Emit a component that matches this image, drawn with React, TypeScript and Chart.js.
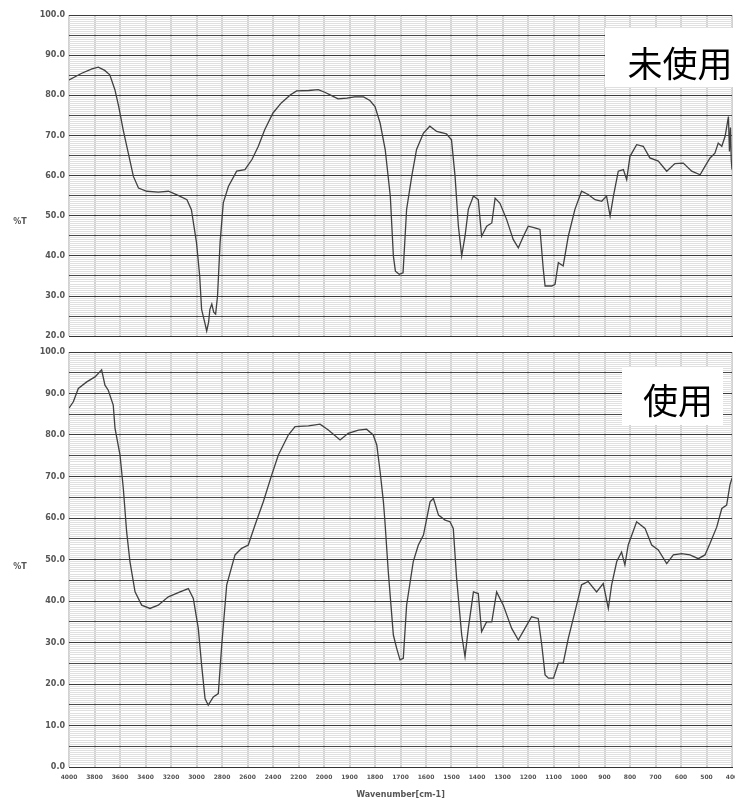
import React, { useEffect, useRef } from 'react';
import { Chart, registerables, LinearScale } from 'chart.js';

Chart.register(...registerables);

// ---- axis tick values (cm-1): 200 steps above 2000, 100 steps below ----
const wavenumberTicks = [
  4000, 3800, 3600, 3400, 3200, 3000, 2800, 2600, 2400, 2200, 2000,
  1900, 1800, 1700, 1600, 1500, 1400, 1300, 1200, 1100, 1000, 900, 800, 700, 600, 500, 400,
];

// ---- 未使用 (unused) spectrum ----
const unusedWavenumber = [
  4000, 3900, 3820, 3770, 3720, 3680, 3640, 3610, 3575, 3535, 3495, 3455, 3390, 3300, 3220, 3140,
  3075, 3040, 3000, 2975, 2960, 2935, 2920, 2905, 2895, 2880, 2865, 2850, 2835, 2815, 2790, 2750,
  2685, 2620, 2565, 2515, 2465, 2400, 2335, 2265, 2215, 2120, 2045, 1995, 1970, 1945, 1910, 1880,
  1845, 1820, 1800, 1780, 1760, 1740, 1728, 1720, 1705, 1690, 1676, 1656, 1637, 1610, 1585, 1558,
  1520, 1500, 1486, 1473, 1460, 1447, 1434, 1414, 1395, 1382, 1362, 1342, 1329, 1310, 1284, 1258,
  1238, 1218, 1199, 1173, 1153, 1140, 1133, 1107, 1094, 1081, 1062, 1042, 1016, 990, 964, 937,
  911, 892, 878, 865, 846, 826, 813, 800, 774, 748, 722, 689, 656, 624, 591, 558,
  525, 506, 486, 467, 454, 440, 427, 414, 410, 406, 403, 400,
];
const unusedT = [
  83.8, 85.5, 86.6, 87.0, 86.2, 85.1, 81.4, 77.2, 71.4, 65.6, 59.8, 56.9, 56.1, 55.9, 56.1, 55.0,
  54.0, 51.5, 43.3, 35.0, 26.7, 23.4, 21.3, 23.5, 26.7, 28.0, 26.0, 25.5, 30.0, 43.3, 53.2, 57.3,
  61.1, 61.5, 64.0, 67.3, 71.4, 75.6, 78.1, 80.1, 81.1, 81.2, 81.4, 80.7, 79.9, 79.1, 79.3, 79.6,
  79.6, 78.7, 77.2, 73.1, 66.5, 54.9, 40.0, 36.2, 35.4, 35.8, 51.6, 59.8, 66.5, 70.6, 72.3, 71.0,
  70.4, 68.9, 59.8, 47.4, 40.0, 44.9, 51.6, 54.9, 54.0, 44.9, 47.4, 48.2, 54.4, 53.1, 49.1, 44.1,
  42.0, 44.9, 47.4, 47.0, 46.6, 36.6, 32.5, 32.5, 32.9, 38.3, 37.5, 44.9, 51.6, 56.1, 55.3, 54.0,
  53.6, 54.9, 49.9, 54.9, 61.1, 61.5, 59.0, 64.8, 67.7, 67.3, 64.4, 63.6, 61.1, 63.0, 63.1, 61.1,
  60.2, 62.3, 64.4, 65.6, 68.1, 67.3, 69.8, 74.7, 66.0, 72.0, 64.0, 61.5,
];

// ---- 使用 (used) spectrum ----
const usedWavenumber = [
  4000, 3966, 3927, 3861, 3796, 3744, 3718, 3692, 3653, 3639, 3600, 3574, 3548, 3522, 3482, 3430,
  3365, 3300, 3221, 3129, 3064, 3025, 2986, 2960, 2933, 2908, 2868, 2829, 2802, 2763, 2698, 2646,
  2594, 2541, 2476, 2410, 2358, 2280, 2227, 2122, 2031, 1983, 1937, 1905, 1865, 1833, 1807, 1793,
  1780, 1767, 1761, 1748, 1728, 1715, 1702, 1689, 1676, 1650, 1630, 1610, 1584, 1571, 1551, 1525,
  1506, 1493, 1480, 1460, 1447, 1434, 1414, 1395, 1382, 1362, 1342, 1323, 1297, 1264, 1238, 1212,
  1186, 1160, 1146, 1133, 1120, 1100, 1081, 1062, 1042, 1016, 990, 964, 931, 905, 885, 872,
  852, 833, 820, 807, 774, 741, 715, 689, 656, 630, 597, 565, 532, 506, 486, 460,
  440, 421, 408, 400,
];
const usedT = [
  86.5, 88.0, 91.2, 92.8, 94.0, 95.7, 92.0, 90.8, 87.2, 81.6, 75.2, 67.1, 56.7, 49.5, 42.2, 39.0,
  38.2, 39.0, 41.0, 42.2, 43.0, 40.6, 33.4, 24.6, 16.5, 14.9, 16.9, 17.7, 29.4, 43.9, 51.1, 52.7,
  53.5, 58.3, 63.9, 70.4, 75.2, 80.0, 82.0, 82.2, 82.6, 81.2, 78.8, 80.4, 81.2, 81.4, 80.0, 77.6,
  71.2, 63.9, 59.1, 47.1, 31.8, 28.6, 25.8, 26.2, 39.0, 49.5, 53.5, 55.9, 63.9, 64.7, 60.7, 59.5,
  59.1, 57.5, 45.5, 31.8, 26.6, 33.4, 42.2, 41.8, 32.6, 35.0, 35.0, 42.2, 39.0, 33.4, 30.6, 33.4,
  36.2, 35.8, 29.4, 22.2, 21.4, 21.4, 25.0, 25.0, 31.0, 37.4, 43.9, 44.7, 42.2, 44.2, 38.2, 43.9,
  49.5, 51.8, 48.7, 53.5, 59.1, 57.5, 53.5, 52.3, 49.0, 51.1, 51.4, 51.1, 50.2, 51.1, 53.9, 57.8,
  62.3, 63.1, 68.0, 69.6,
];

// IR wavenumber axis: 4000-2000 at 200 cm-1 per division, 2000-400 at 100 cm-1 per division
class IRWavenumberScale extends LinearScale {
  static id = 'irWavenumber';
  static defaults = { ...(LinearScale as any).defaults };
  toPos(v: number) {
    return v >= 2000 ? (4000 - v) / 200 : 10 + (2000 - v) / 100;
  }
  fromPos(p: number) {
    return p <= 10 ? 4000 - p * 200 : 2000 - (p - 10) * 100;
  }
  buildTicks() {
    return wavenumberTicks.map((v) => ({ value: v }));
  }
  getPixelForValue(value: number) {
    return (this as any).left + (this.toPos(value) / 26) * (this as any).width;
  }
  getValueForPixel(pixel: number) {
    return this.fromPos(((pixel - (this as any).left) / (this as any).width) * 26);
  }
}
Chart.register(IRWavenumberScale as any);

const panelTextPlugin = {
  id: 'panelText',
  afterDraw(chart: any, _args: any, opts: any) {
    const ctx = chart.ctx;
    ctx.save();
    ctx.textAlign = 'center';
    ctx.textBaseline = 'middle';
    ctx.fillStyle = '#555';
    ctx.font = 'bold 8px "DejaVu Sans"';
    ctx.fillText(opts.axisLabel, opts.axisLabelX, opts.axisLabelY);
    ctx.fillStyle = '#ffffff';
    ctx.fillRect(opts.boxX, opts.boxY, opts.boxW, opts.boxH);
    ctx.fillStyle = '#000000';
    ctx.font = '35px "Noto Sans CJK JP"';
    ctx.fillText(opts.label, opts.labelX, opts.labelY);
    ctx.restore();
  },
};

const gridColor = (v: number) => {
  if (Math.abs(v % 10) < 1e-9) return '#3c3c3c';
  if (Math.abs(v % 5) < 1e-9) return '#4a4a4a';
  return '#e0e0e0';
};

function makeConfig(kind: 'top' | 'bottom'): any {
  const isTop = kind === 'top';
  const xs = isTop ? unusedWavenumber : usedWavenumber;
  const ys = isTop ? unusedT : usedT;
  return {
    type: 'line',
    data: {
      datasets: [
        {
          label: isTop ? '未使用' : '使用',
          data: xs.map((x, i) => ({ x, y: ys[i] })),
          borderColor: '#404040',
          borderWidth: 1.3,
          pointRadius: 0,
          tension: 0,
          fill: false,
        },
      ],
    },
    options: {
      responsive: false,
      animation: false,
      layout: { padding: { top: isTop ? 15 : 12, right: 28, left: 0, bottom: 0 } },
      plugins: {
        legend: { display: false },
        tooltip: { enabled: false },
        panelText: isTop
          ? {
              axisLabel: '%T', axisLabelX: 20, axisLabelY: 222,
              boxX: 605, boxY: 28, boxW: 160, boxH: 59,
              label: '未使用', labelX: 680, labelY: 64,
            }
          : {
              axisLabel: '%T', axisLabelX: 20, axisLabelY: 227,
              boxX: 622, boxY: 27, boxW: 101, boxH: 58,
              label: '使用', labelX: 678, labelY: 61,
            },
      },
      scales: {
        x: {
          type: 'irWavenumber',
          min: 400,
          max: 4000,
          afterFit: (s: any) => {
            s.height = isTop ? 8 : 35;
          },
          border: { display: true, color: '#333', width: 1 },
          grid: { drawTicks: false, color: '#d2d2d2', lineWidth: 2, z: -2 },
          ticks: {
            display: !isTop,
            autoSkip: false,
            maxRotation: 0,
            minRotation: 0,
            padding: 7,
            color: '#555',
            font: { family: 'DejaVu Sans', size: 6, weight: 'bold' },
            callback: (v: any) => String(v),
          },
          title: {
            display: !isTop,
            text: 'Wavenumber[cm-1]',
            color: '#555',
            font: { family: 'DejaVu Sans', size: 8, weight: 'bold' },
            padding: { top: 4, bottom: 2 },
          },
        },
        y: {
          min: isTop ? 20 : 0,
          max: 100,
          afterFit: (s: any) => {
            s.width = 69;
          },
          border: { display: false },
          grid: {
            drawTicks: false,
            color: (c: any) => gridColor(c.tick.value),
            lineWidth: 1,
          },
          ticks: {
            stepSize: 0.5,
            autoSkip: false,
            padding: 4,
            color: '#555',
            font: { family: 'DejaVu Sans', size: 8, weight: 'bold' },
            callback: (v: any) => (Math.abs(v % 10) < 1e-9 ? Number(v).toFixed(1) : ''),
          },
        },
      },
    },
    plugins: [panelTextPlugin],
  };
}

function Panel({ kind, top, height }: { kind: 'top' | 'bottom'; top: number; height: number }) {
  const ref = useRef<HTMLCanvasElement | null>(null);
  useEffect(() => {
    if (!ref.current) return;
    const chart = new Chart(ref.current, makeConfig(kind));
    return () => chart.destroy();
  }, [kind]);
  return (
    <canvas
      ref={ref}
      width={760}
      height={height}
      style={{ position: 'absolute', left: 0, top, width: 760, height, display: 'block' }}
    />
  );
}

export default function App() {
  return (
    <div
      style={{
        position: 'fixed',
        left: 0,
        top: 0,
        width: 735,
        height: 802,
        overflow: 'hidden',
        background: '#ffffff',
      }}
    >
      <Panel kind="top" top={0} height={345} />
      <Panel kind="bottom" top={340} height={462} />
    </div>
  );
}
